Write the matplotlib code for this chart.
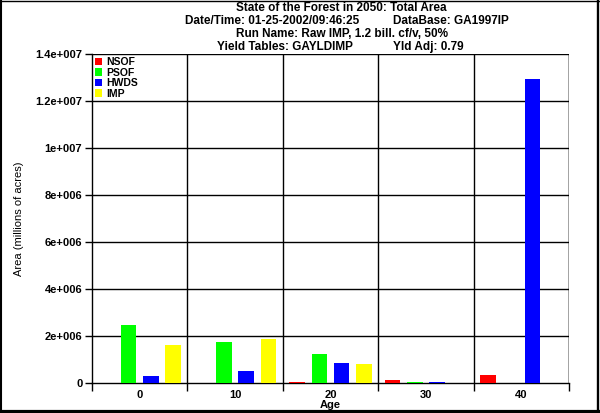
import matplotlib
matplotlib.use("Agg")
import matplotlib.pyplot as plt
import numpy as np
from matplotlib.lines import Line2D

plt.rcParams['font.family'] = ['Liberation Sans', 'DejaVu Sans']

ages = ["0", "10", "20", "30", "40"]
series_names = ["NSOF", "PSOF", "HWDS", "IMP"]
colors = ["#ff0000", "#00ff00", "#0000ff", "#ffff00"]
nsof = [0, 0, 0.04e6, 0.13e6, 0.34e6]
psof = [2.47e6, 1.74e6, 1.23e6, 0.04e6, 0]
hwds = [0.30e6, 0.51e6, 0.85e6, 0.04e6, 12.95e6]
imp = [1.62e6, 1.87e6, 0.80e6, 0, 0]
values = [nsof, psof, hwds, imp]
yticks = [0, 2e6, 4e6, 6e6, 8e6, 1e7, 1.2e7, 1.4e7]
ytick_labels = ["0", "2e+006", "4e+006", "6e+006", "8e+006", "1e+007", "1.2e+007", "1.4e+007"]

W, H = 600, 413
fig = plt.figure(figsize=(W / 100, H / 100), dpi=100)
ax = fig.add_axes([92 / W, 1 - 383 / H, (569 - 92) / W, (383 - 54) / H])

x = np.arange(len(ages))
spacing = 0.2325
width = 0.165
for i, (vals, c, name) in enumerate(zip(values, colors, series_names)):
    ax.bar(x + (i - 1.5) * spacing, vals, width=width, color=c, label=name, zorder=3)

ax.set_xlim(-0.5, len(ages) - 0.5)
ax.set_ylim(0, 1.4e7)
ax.set_yticks(yticks)
ax.set_yticklabels(ytick_labels, fontsize=8, fontweight='bold')
ax.set_xticks(x)
ax.set_xticklabels(ages, fontsize=8, fontweight='bold')
ax.set_xticks(np.arange(-0.5, len(ages)), minor=True)
ax.tick_params(axis='x', which='major', length=0, pad=5)
ax.tick_params(axis='x', which='minor', length=6, width=1, color='black', direction='out')
ax.tick_params(axis='y', which='major', length=5, width=1, pad=2)

for yv in yticks[1:]:
    ax.axhline(yv, color='black', lw=1, zorder=2)
for xv in np.arange(0.5, len(ages)):
    ax.axvline(xv, color='black', lw=1, zorder=2)

for s in ['top', 'right']:
    ax.spines[s].set_visible(False)
ax.spines['left'].set_linewidth(1)
ax.spines['bottom'].set_linewidth(1)
ax.axvline(len(ages) - 0.5, color='black', lw=1, zorder=2)

ax.set_xlabel("Age", fontsize=8, fontweight='bold', labelpad=0)
ax.set_ylabel("Area (millions of acres)", fontsize=8, labelpad=8)

leg = ax.legend(loc='upper left', frameon=False, prop={'weight': 'bold', 'size': 7.5},
                handlelength=0.7, handleheight=0.7, labelspacing=0.05, handletextpad=0.35,
                borderaxespad=0.2, borderpad=0.1)

titles = [
    (236, 8, "State of the Forest in 2050: Total Area"),
    (185, 21, "Date/Time: 01-25-2002/09:46:25"),
    (393, 21, "DataBase: GA1997IP"),
    (236, 34, "Run Name: Raw IMP, 1.2 bill. cf/v, 50%"),
    (217, 47, "Yield Tables: GAYLDIMP"),
    (393, 47, "Yld Adj: 0.79"),
]
for tx, ty, t in titles:
    fig.text(tx / W, 1 - ty / H, t, ha='left', va='center', fontsize=8.5, fontweight='bold')

# figure border
fig.add_artist(Line2D([0.5 / W, 598.5 / W], [1 - 0.5 / H, 1 - 0.5 / H], color='black', lw=1))
fig.add_artist(Line2D([1 / W, 1 / W], [1 - 0.5 / H, 1 - 410 / H], color='black', lw=1.5))
fig.add_artist(Line2D([598.3 / W, 598.3 / W], [1 - 0.5 / H, 1 - 411 / H], color='black', lw=1.7))
fig.add_artist(Line2D([0.5 / W, 599 / W], [1 - 410.5 / H, 1 - 410.5 / H], color='black', lw=2.3))

fig.savefig("out.png", dpi=100)
